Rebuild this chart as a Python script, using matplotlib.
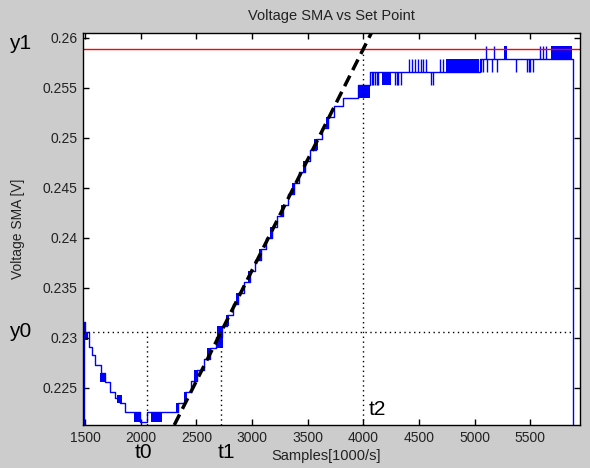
import matplotlib.pyplot as plt

plt.rcParams['font.family'] = ['Liberation Sans', 'DejaVu Sans']

# step signal of the voltage SMA (sample index, volts), drawn as steps-post
sma_x = [1490, 1490, 1500, 1535, 1560, 1590, 1640, 1680, 1725, 1770, 1815, 1860,
         1995, 2060, 2336, 2396, 2456, 2510, 2565, 2620, 2674, 2729, 2779, 2828,
         2878, 2928, 2978, 3027, 3077, 3127, 3176, 3226, 3276, 3326, 3375, 3425,
         3475, 3524, 3574, 3629, 3683, 3738, 3820, 3955, 4060, 5045, 5880]
sma_y = [0.2150, 0.2316, 0.2306, 0.2291, 0.2283, 0.2273, 0.2265, 0.2256, 0.2246,
         0.2240, 0.2235, 0.2226, 0.2216, 0.2226, 0.2235, 0.2246, 0.2257, 0.2268,
         0.2279, 0.2290, 0.2301, 0.2312, 0.2323, 0.2334, 0.2345, 0.2356, 0.2367,
         0.2378, 0.2389, 0.2400, 0.2411, 0.2422, 0.2433, 0.2444, 0.2455, 0.2466,
         0.2477, 0.2488, 0.2499, 0.2510, 0.2521, 0.2532, 0.2540, 0.2553, 0.2566,
         0.2579, 0.2150]

# regions where the quantised signal toggles fast between two levels
band_x0 = [1492, 1635, 1790, 1940, 2095, 2320, 2385, 2478, 2600, 2690, 2765, 2860,
           2960, 3060, 3160, 3260, 3355, 3460, 3560, 3665, 3955, 4165, 4740, 5264, 5684]
band_x1 = [1530, 1680, 1830, 1990, 2195, 2340, 2412, 2505, 2632, 2740, 2790, 2885,
           2985, 3085, 3185, 3285, 3380, 3485, 3590, 3690, 4060, 4250, 5035, 5295, 5872]
band_lo = [0.2298, 0.2256, 0.2235, 0.2216, 0.2216, 0.2226, 0.2235, 0.2257, 0.2279,
           0.2290, 0.2312, 0.2334, 0.2356, 0.2378, 0.2400, 0.2422, 0.2444, 0.2466,
           0.2488, 0.2510, 0.2540, 0.2553, 0.2566, 0.2579, 0.2579]
band_hi = [0.2306, 0.2265, 0.2243, 0.2226, 0.2226, 0.2235, 0.2246, 0.2268, 0.2290,
           0.2312, 0.2323, 0.2345, 0.2367, 0.2389, 0.2411, 0.2433, 0.2455, 0.2477,
           0.2499, 0.2521, 0.2553, 0.2566, 0.2579, 0.2592, 0.2592]

# single toggles (spikes) on the plateau
spike_x = [4075, 4090, 4105, 4120, 4135, 4285, 4300, 4315, 4335,
           4415, 4440, 4465, 4490, 4515, 4540, 4560, 4606, 4630, 4690, 4713,
           5058, 5079, 5115, 5154, 5199, 5372, 5468, 5485, 5498, 5528,
           5103, 5178, 5588, 5612, 5639]
spike_lo = [0.2553, 0.2553, 0.2553, 0.2553, 0.2553, 0.2553, 0.2553, 0.2553, 0.2553,
            0.2566, 0.2566, 0.2566, 0.2566, 0.2566, 0.2566, 0.2566, 0.2553, 0.2553, 0.2566, 0.2566,
            0.2566, 0.2566, 0.2566, 0.2566, 0.2566, 0.2566, 0.2566, 0.2566, 0.2566, 0.2566,
            0.2579, 0.2579, 0.2579, 0.2579, 0.2579]
spike_hi = [0.2566, 0.2566, 0.2566, 0.2566, 0.2566, 0.2566, 0.2566, 0.2566, 0.2566,
            0.2579, 0.2579, 0.2579, 0.2579, 0.2579, 0.2579, 0.2579, 0.2566, 0.2566, 0.2579, 0.2579,
            0.2579, 0.2579, 0.2579, 0.2579, 0.2579, 0.2579, 0.2579, 0.2579, 0.2579, 0.2579,
            0.2592, 0.2592, 0.2592, 0.2592, 0.2592]

set_point = 0.2589
t0, t1, t2 = 2060, 2722, 4000
y0, y1 = 0.2306, 0.2589
x_end = 5870

x_ticks = [1500, 2000, 2500, 3000, 3500, 4000, 4500, 5000, 5500]
y_ticks = [0.225, 0.23, 0.235, 0.24, 0.245, 0.25, 0.255, 0.26]
y_tick_labels = ['0.225', '0.23', '0.235', '0.24', '0.245', '0.25', '0.255', '0.26']
xlim = (1482, 5947)
ylim = (0.2213, 0.2605)

fig = plt.figure(figsize=(5.9, 4.68), dpi=100, facecolor='#cccccc')
ax = fig.add_axes([0.1407, 0.0919, 0.8424, 0.8376])
ax.set_facecolor('white')

blue = '#0000ff'
ax.step(sma_x, sma_y, where='post', color=blue, lw=1)
ax.vlines(spike_x, spike_lo, spike_hi, color=blue, lw=1)
for x0, x1, lo, hi in zip(band_x0, band_x1, band_lo, band_hi):
    ax.fill_between([x0, x1], lo, hi, color=blue, lw=0)

ax.axhline(set_point, color='#ff0000', lw=1)

# dotted guides
dot = (0, (1, 2.5))
ax.plot([xlim[0], x_end], [y0, y0], color='black', lw=1, linestyle=dot)
ax.plot([t0, t0], [ylim[0], y0], color='black', lw=1, linestyle=dot)
ax.plot([t1, t1], [ylim[0], y0], color='black', lw=1, linestyle=dot)
ax.plot([t2, t2], [ylim[0], y1], color='black', lw=1, linestyle=dot)

# tangent through (t1, y0) and (t2, y1)
slope = (y1 - y0) / (t2 - t1)
tx = [t1 + (ylim[0] - y0) / slope, t1 + (ylim[1] - y0) / slope]
ax.plot(tx, [ylim[0], ylim[1]], color='black', lw=2.5, dashes=(3.4, 1.8))

ax.set_xlim(*xlim)
ax.set_ylim(*ylim)
ax.set_xticks(x_ticks)
ax.set_yticks(y_ticks)
ax.set_yticklabels(y_tick_labels)
ax.tick_params(direction='in', length=4, width=1, top=True, right=True,
               labelsize=10, pad=4, labelcolor='#222222')
for s in ax.spines.values():
    s.set_linewidth(1)

ax.set_title('Voltage SMA vs Set Point', fontsize=10.5, pad=9, color='#222222')
ax.set_ylabel('Voltage SMA [V]', fontsize=10, color='#222222')
ax.yaxis.set_label_coords(-0.117, 0.5)
ax.set_xlabel('Samples[1000/s]', fontsize=10.5, color='#222222')
ax.xaxis.set_label_coords(0.49, -0.061)

left_lbl = ('axes fraction', 'data')
ax.annotate('y1', xy=(0, y1), xycoords=left_lbl, xytext=(-45, 4),
            textcoords='offset points', fontsize=15, ha='center', va='center')
ax.annotate('y0', xy=(0, y0), xycoords=left_lbl, xytext=(-45, 0),
            textcoords='offset points', fontsize=15, ha='center', va='center')
bottom_lbl = ('data', 'axes fraction')
ax.annotate('t0', xy=(t0, 0), xycoords=bottom_lbl, xytext=(-3, -20),
            textcoords='offset points', fontsize=15, ha='center', va='center')
ax.annotate('t1', xy=(t1, 0), xycoords=bottom_lbl, xytext=(4, -20),
            textcoords='offset points', fontsize=15, ha='center', va='center')
ax.annotate('t2', xy=(t2, 0), xycoords=bottom_lbl, xytext=(10, 11),
            textcoords='offset points', fontsize=15, ha='center', va='center')

plt.savefig('out.png', dpi=100, facecolor=fig.get_facecolor())
